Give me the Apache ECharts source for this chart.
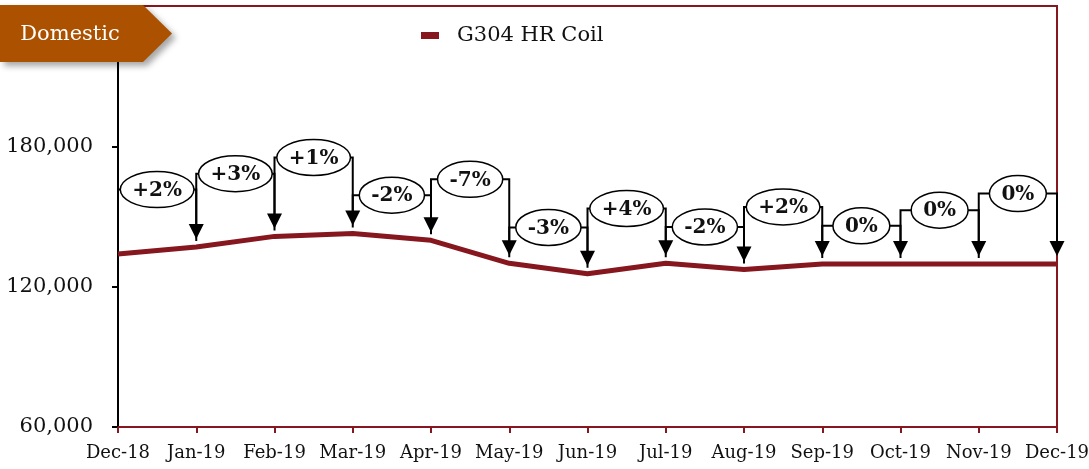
<!DOCTYPE html>
<html>
<head>
<meta charset="utf-8">
<script src="https://cdn.jsdelivr.net/npm/echarts@6/dist/echarts.min.js"></script>
<style>
  html, body { margin: 0; padding: 0; background: #fff; }
  #chart { width: 1089px; height: 469px; }
</style>
</head>
<body>
<div id="chart"></div>
<script>
const months = ['Dec-18', 'Jan-19', 'Feb-19', 'Mar-19', 'Apr-19', 'May-19', 'Jun-19',
  'Jul-19', 'Aug-19', 'Sep-19', 'Oct-19', 'Nov-19', 'Dec-19']
const coilPrices = [134000, 137000, 141500, 142700, 139800, 130000, 125500,
  130000, 127300, 129700, 129700, 129700, 129700]
// month-on-month change labels, one per step between months
const changeLabels = ['+2%', '+3%', '+1%', '-2%', '-7%', '-3%', '+4%', '-2%', '+2%', '0%', '0%', '0%']
// height (in price units) at which each change bubble sits
const bubbleLevels = [161500, 168300, 175200, 159100, 165900, 145300, 153400, 145500, 154100, 146000, 152700, 159800]
const yTicks = [60000, 120000, 180000, 240000]

const darkRed = '#86171f'
const bubbleFont = 'bold 20px "DejaVu Serif"'

const measureCtx = document.createElement('canvas').getContext('2d')
measureCtx.font = bubbleFont
function textWidth(t) {
  return measureCtx.measureText(t).width
}

function renderBubble(params, api) {
  const i = api.value(0)
  const p0 = api.coord([i, coilPrices[i]])
  const p1 = api.coord([i + 1, coilPrices[i + 1]])
  const ly = api.coord([i, bubbleLevels[i]])[1]
  const tipY = p1[1] - 8
  const headH = 15
  const midX = (p0[0] + p1[0]) / 2
  const label = changeLabels[i]
  const rx = (textWidth(label) + 24) / 2
  return {
    type: 'group',
    children: [
      {
        type: 'polyline',
        shape: { points: [[p0[0], p0[1] - 6], [p0[0], ly], [p1[0], ly], [p1[0], tipY - headH + 1]] },
        style: { stroke: '#000', lineWidth: 2, fill: null }
      },
      {
        type: 'polygon',
        shape: { points: [[p1[0] - 7.5, tipY - headH], [p1[0] + 7.5, tipY - headH], [p1[0], tipY]] },
        style: { fill: '#000' }
      },
      {
        type: 'ellipse',
        shape: { cx: midX, cy: ly, rx: rx, ry: 18 },
        style: { fill: '#fff', stroke: '#000', lineWidth: 1.5 }
      },
      {
        type: 'text',
        style: {
          text: label, x: midX, y: ly + 1, align: 'center', verticalAlign: 'middle',
          font: bubbleFont, fill: '#111'
        }
      }
    ]
  }
}

const chart = echarts.init(document.getElementById('chart'))
chart.setOption({
  animation: false,
  backgroundColor: '#fff',
  grid: {
    left: 118, right: 32, top: 6, bottom: 42,
    outerBoundsMode: 'none',
    show: true, borderColor: darkRed, borderWidth: 2
  },
  legend: {
    data: [{ name: 'G304 HR Coil', icon: 'rect' }],
    left: 416, top: 20,
    itemWidth: 18, itemHeight: 7,
    formatter: (name) => '{t|' + name + '}',
    textStyle: {
      rich: { t: { fontFamily: 'DejaVu Serif', fontSize: 21, color: '#111', padding: [0, 0, 0, 13] } }
    }
  },
  xAxis: {
    type: 'category',
    data: months,
    boundaryGap: false,
    axisLine: { lineStyle: { color: darkRed, width: 2 } },
    axisTick: { length: 6, lineStyle: { color: darkRed, width: 2 } },
    axisLabel: { interval: 0, margin: 17, fontFamily: 'DejaVu Serif', fontSize: 18, color: '#111' }
  },
  yAxis: {
    type: 'value',
    min: yTicks[0],
    max: yTicks[yTicks.length - 1],
    interval: yTicks[1] - yTicks[0],
    splitLine: { show: false },
    axisLine: { show: true, lineStyle: { color: '#000', width: 2 } },
    axisTick: { show: true, length: 6, lineStyle: { color: '#000', width: 2 } },
    axisLabel: {
      margin: 25, fontFamily: 'DejaVu Serif', fontSize: 21, color: '#111',
      formatter: (v) => (v === yTicks[yTicks.length - 1] ? '' : v.toLocaleString('en-US'))
    }
  },
  graphic: [
    {
      type: 'polygon', z: 100,
      shape: { points: [[0, 5], [143, 5], [172, 33.5], [143, 62], [0, 62]] },
      style: { fill: '#ab5100', shadowBlur: 6, shadowOffsetX: 4, shadowOffsetY: 4, shadowColor: 'rgba(0,0,0,0.35)' }
    },
    {
      type: 'text', z: 101,
      style: {
        text: 'Domestic', x: 70, y: 35, align: 'center', verticalAlign: 'middle',
        font: '21px "DejaVu Serif"', fill: '#fff'
      }
    }
  ],
  series: [
    {
      name: 'G304 HR Coil',
      type: 'line',
      data: coilPrices,
      symbol: 'none',
      color: darkRed,
      lineStyle: { color: darkRed, width: 5 },
      z: 2
    },
    {
      type: 'custom',
      data: changeLabels.map((_, i) => [i]),
      renderItem: renderBubble,
      z: 5,
      silent: true
    }
  ]
})
</script>
</body>
</html>
